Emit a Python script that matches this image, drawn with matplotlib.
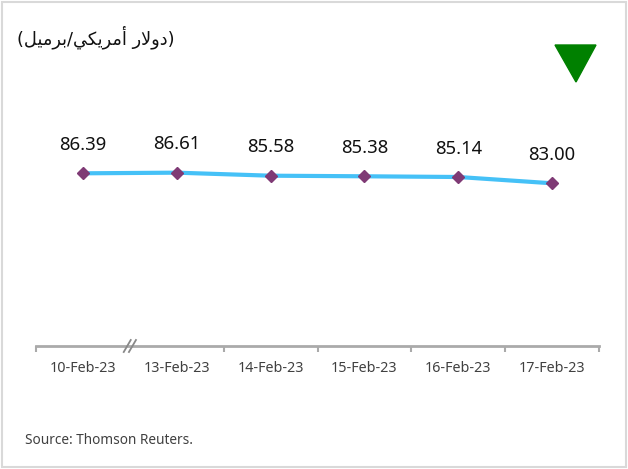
import matplotlib
matplotlib.use("Agg")
import matplotlib.pyplot as plt
from matplotlib.patches import Polygon, Rectangle

# data
dates = ["10-Feb-23", "13-Feb-23", "14-Feb-23", "15-Feb-23", "16-Feb-23", "17-Feb-23"]
prices = [86.39, 86.61, 85.58, 85.38, 85.14, 83.00]

# "(دولار أمريكي/برميل)" pre-shaped into presentation forms, visual (LTR) order
title_ar = ("(" + "\uFEDE\uFEF4\uFEE3\uFEAE\uFE91" + "/"
            + "\uFEF2\uFEDC\uFEF3\uFEAE\uFEE3\uFE83" + " "
            + "\uFEAD\uFEFB\uFEED\uFEA9" + ")")

W, H = 628, 469
fig = plt.figure(figsize=(W / 100, H / 100), dpi=100)
ax = fig.add_axes([36 / W, 1 - 346 / H, (599 - 36) / W, (346 - 40) / H])

x = list(range(len(dates)))
ax.plot(x, prices, color="#45C1F7", lw=3, solid_capstyle="round", zorder=2)
ax.plot(x, prices, ls="none", marker="D", ms=6.3, color="#7F3A75",
        markeredgecolor="#7F3A75", zorder=3)
for xi, p in zip(x, prices):
    ax.annotate(f"{p:.2f}", (xi, p), xytext=(0, 20.5), textcoords="offset points",
                ha="center", va="center", fontsize=13.3, family="Noto Sans",
                color="#111111")

ax.set_xlim(-0.5, 5.5)
ax.set_ylim(27.7, 131.7)
ax.set_yticks([])
for s in ("left", "right", "top"):
    ax.spines[s].set_visible(False)
ax.spines["bottom"].set_color("#AAAAAA")
ax.spines["bottom"].set_linewidth(2)

ax.set_xticks(x)
ax.set_xticklabels(dates, family="Noto Sans", fontsize=10.3, color="#404040")
ax.tick_params(axis="x", which="major", length=0, pad=10.5)
ax.set_xticks([-0.5, 1.5, 2.5, 3.5, 4.5, 5.5], minor=True)
ax.tick_params(axis="x", which="minor", length=4, width=1.5, color="#AAAAAA",
               direction="out")

# axis break mark "//" between the first two dates
xt = ax.get_xaxis_transform()
for dx in (-2.6, 2.6):
    ax.plot([0.5 + (dx - 3.5) / 93.8, 0.5 + (dx + 3.5) / 93.8],
            [-6 / 306, 6 / 306], color="#888888", lw=1.3,
            transform=xt, clip_on=False, zorder=4)

fig.text(17 / W, 1 - 37 / H, title_ar, ha="left", va="center",
         fontsize=12.8, family=["DejaVu Sans"], color="#111111")
fig.text(25 / W, 1 - 440 / H, "Source: Thomson Reuters.", ha="left", va="center",
         fontsize=9.8, family="Noto Sans", fontweight="light", color="#404040")

# green down arrow (price fell)
fig.patches.append(Polygon([(555 / W, 1 - 45 / H), (596 / W, 1 - 45 / H),
                            (576 / W, 1 - 82 / H)], closed=True,
                           transform=fig.transFigure, color="#008000"))
# light frame around the whole figure
fig.patches.append(Rectangle((2 / W, 2 / H), 1 - 4 / W, 1 - 4 / H, fill=False,
                             transform=fig.transFigure, edgecolor="#D9D9D9", lw=1.5))

fig.savefig("out.png", dpi=100)
